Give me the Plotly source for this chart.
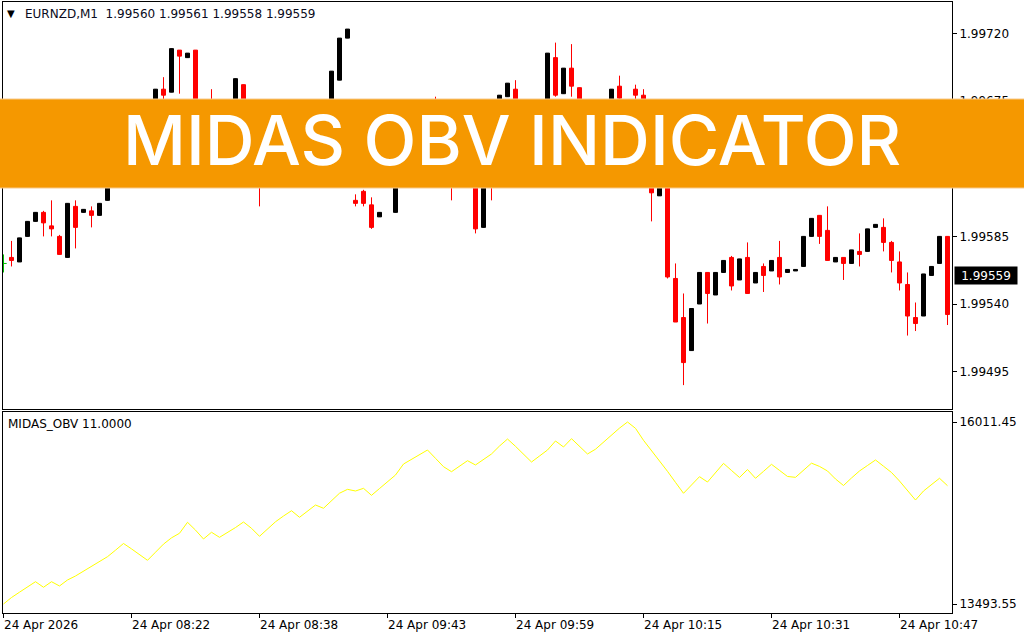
import plotly.graph_objects as go

# ---------------- data ----------------
bar_index = list(range(119))

open_ = [1.99567, 1.99571, 1.99568, 1.99585, 1.99595, 1.99601, 1.99592, 1.99585, 1.99571, 1.99605,
         1.99601, 1.99602, 1.99599, 1.99609, 1.99636, 1.99649, 1.99662, 1.99653, 1.99643, 1.99636,
         1.99683, 1.99681, 1.99709, 1.99704, 1.99709, 1.99649, 1.99643, 1.99633, 1.99626, 1.99643,
         1.99686, 1.99656, 1.99636, 1.99622, 1.99633, 1.99643, 1.99653, 1.99662, 1.99653, 1.99659,
         1.99669, 1.99659, 1.99689, 1.99717, 1.99609, 1.99615, 1.99606, 1.99598, 1.99619, 1.99601,
         1.99643, 1.99656, 1.99664, 1.99669, 1.99672, 1.99662, 1.99649, 1.99636, 1.99646, 1.99656,
         1.99591, 1.99662, 1.99653, 1.99678, 1.99683, 1.99666, 1.99653, 1.99643, 1.99656, 1.99704,
         1.99680, 1.99697, 1.99684, 1.99662, 1.99649, 1.99659, 1.99669, 1.99685, 1.99670, 1.99683,
         1.99679, 1.99656, 1.99612, 1.99643, 1.99557, 1.99531, 1.99509, 1.99540, 1.99561, 1.99546,
         1.99561, 1.99571, 1.99556, 1.99571, 1.99554, 1.99565, 1.99562, 1.99571, 1.99561, 1.99562,
         1.99565, 1.99585, 1.99599, 1.99589, 1.99568, 1.99571, 1.99567, 1.99575, 1.99575, 1.99591,
         1.99591, 1.99581, 1.99568, 1.99553, 1.99531, 1.99532, 1.99559, 1.99567, 1.99585]

high = [1.99573, 1.99582, 1.99584, 1.99595, 1.99601, 1.99602, 1.99609, 1.99586, 1.99607, 1.99609,
        1.99603, 1.99605, 1.99607, 1.99636, 1.99651, 1.99664, 1.99666, 1.99655, 1.99644, 1.99683,
        1.99691, 1.99710, 1.99709, 1.99707, 1.99709, 1.99653, 1.99683, 1.99636, 1.99644, 1.99690,
        1.99686, 1.99659, 1.99639, 1.99635, 1.99645, 1.99655, 1.99664, 1.99664, 1.99661, 1.99672,
        1.99672, 1.99695, 1.99717, 1.99723, 1.99613, 1.99616, 1.99611, 1.99601, 1.99631, 1.99643,
        1.99657, 1.99666, 1.99670, 1.99675, 1.99678, 1.99664, 1.99651, 1.99647, 1.99657, 1.99657,
        1.99664, 1.99666, 1.99679, 1.99687, 1.99689, 1.99668, 1.99655, 1.99657, 1.99707, 1.99714,
        1.99697, 1.99713, 1.99684, 1.99664, 1.99661, 1.99670, 1.99683, 1.99692, 1.99675, 1.99686,
        1.99683, 1.99657, 1.99644, 1.99644, 1.99567, 1.99547, 1.99537, 1.99561, 1.99561, 1.99561,
        1.99569, 1.99572, 1.99570, 1.99581, 1.99561, 1.99567, 1.99569, 1.99582, 1.99563, 1.99563,
        1.99585, 1.99597, 1.99599, 1.99605, 1.99571, 1.99571, 1.99576, 1.99587, 1.99590, 1.99593,
        1.99597, 1.99582, 1.99575, 1.99561, 1.99541, 1.99560, 1.99565, 1.99585, 1.99585]

low = [1.99561, 1.99565, 1.99568, 1.99585, 1.99595, 1.99585, 1.99585, 1.99573, 1.99571, 1.99577,
       1.99601, 1.99591, 1.99599, 1.99609, 1.99635, 1.99648, 1.99651, 1.99639, 1.99633, 1.99636,
       1.99673, 1.99681, 1.99680, 1.99704, 1.99648, 1.99628, 1.99630, 1.99624, 1.99624, 1.99641,
       1.99655, 1.99635, 1.99605, 1.99621, 1.99630, 1.99641, 1.99651, 1.99651, 1.99651, 1.99657,
       1.99657, 1.99659, 1.99689, 1.99717, 1.99605, 1.99605, 1.99590, 1.99598, 1.99618, 1.99601,
       1.99641, 1.99655, 1.99662, 1.99668, 1.99661, 1.99648, 1.99609, 1.99633, 1.99645, 1.99587,
       1.99591, 1.99609, 1.99651, 1.99678, 1.99664, 1.99651, 1.99641, 1.99641, 1.99655, 1.99678,
       1.99680, 1.99678, 1.99661, 1.99648, 1.99648, 1.99658, 1.99668, 1.99673, 1.99669, 1.99674,
       1.99655, 1.99595, 1.99612, 1.99557, 1.99528, 1.99486, 1.99509, 1.99540, 1.99527, 1.99546,
       1.99561, 1.99549, 1.99556, 1.99547, 1.99554, 1.99548, 1.99562, 1.99553, 1.99561, 1.99562,
       1.99565, 1.99585, 1.99580, 1.99569, 1.99568, 1.99556, 1.99567, 1.99565, 1.99575, 1.99591,
       1.99575, 1.99561, 1.99549, 1.99519, 1.99522, 1.99532, 1.99559, 1.99567, 1.99526]

close = [1.99567, 1.99569, 1.99584, 1.99595, 1.99601, 1.99594, 1.99590, 1.99573, 1.99607, 1.99591,
         1.99603, 1.99599, 1.99607, 1.99636, 1.99649, 1.99662, 1.99653, 1.99643, 1.99636, 1.99683,
         1.99679, 1.99710, 1.99705, 1.99707, 1.99649, 1.99629, 1.99633, 1.99626, 1.99643, 1.99690,
         1.99656, 1.99636, 1.99622, 1.99633, 1.99643, 1.99653, 1.99662, 1.99653, 1.99659, 1.99669,
         1.99659, 1.99695, 1.99717, 1.99723, 1.99607, 1.99607, 1.99591, 1.99601, 1.99629, 1.99643,
         1.99656, 1.99664, 1.99669, 1.99674, 1.99662, 1.99649, 1.99636, 1.99646, 1.99656, 1.99590,
         1.99662, 1.99653, 1.99679, 1.99687, 1.99666, 1.99653, 1.99643, 1.99656, 1.99707, 1.99679,
         1.99697, 1.99685, 1.99662, 1.99649, 1.99659, 1.99669, 1.99683, 1.99677, 1.99675, 1.99679,
         1.99656, 1.99614, 1.99643, 1.99558, 1.99528, 1.99501, 1.99537, 1.99561, 1.99547, 1.99561,
         1.99569, 1.99552, 1.99570, 1.99547, 1.99561, 1.99559, 1.99569, 1.99558, 1.99563, 1.99563,
         1.99585, 1.99597, 1.99585, 1.99569, 1.99571, 1.99567, 1.99576, 1.99573, 1.99590, 1.99593,
         1.99581, 1.99569, 1.99554, 1.99532, 1.99527, 1.99560, 1.99565, 1.99585, 1.99533]

obv = [13493.55, 13583, 13657, 13729, 13802, 13725, 13802, 13743, 13826, 13881,
       13946, 14014, 14082, 14148, 14238, 14331, 14256, 14174, 14098, 14210,
       14322, 14409, 14472, 14624, 14516, 14393, 14486, 14416, 14481, 14551,
       14628, 14541, 14430, 14530, 14631, 14711, 14784, 14693, 14777, 14863,
       14818, 14921, 15026, 15080, 15057, 15094, 14997, 15091, 15186, 15278,
       15430, 15495, 15555, 15624, 15509, 15393, 15324, 15394, 15476, 15417,
       15489, 15569, 15679, 15776, 15675, 15566, 15458, 15541, 15624, 15749,
       15666, 15781, 15674, 15569, 15635, 15732, 15837, 15927, 16011.45, 15924,
       15758, 15617, 15486, 15329, 15176, 15025, 15140, 15255, 15181, 15310,
       15439, 15341, 15244, 15354, 15233, 15329, 15426, 15342, 15258, 15246,
       15345, 15442, 15397, 15334, 15223, 15133, 15237, 15334, 15410, 15486,
       15400, 15313, 15195, 15064, 14932, 15057, 15147, 15233, 15130]

time_tick_bars = [0, 16, 32, 48, 64, 80, 96, 112]
time_labels = ["24 Apr 2026", "24 Apr 08:22", "24 Apr 08:38", "24 Apr 09:43",
               "24 Apr 09:59", "24 Apr 10:15", "24 Apr 10:31", "24 Apr 10:47"]
price_ticks = [1.99495, 1.99540, 1.99585, 1.99630, 1.99675, 1.99720]
symbol = "EURNZD,M1"
header_ohlc = [1.99560, 1.99561, 1.99558, 1.99559]
last_price = 1.99559
indicator_label = "MIDAS_OBV 11.0000"
banner_text = "MIDAS OBV INDICATOR"

# ---------------- layout geometry ----------------
W, H = 1024, 640
ML, MR, MT, MB = 3, 72, 2, 27
PW, PH = W - ML - MR, H - MT - MB


def paper_x(px):
    return (px - ML) / PW


def paper_y(py):
    return (H - MB - py) / PH


FONT = "DejaVu Sans"
RED = "#FF0000"
BLACK = "#000000"

n = len(bar_index)
body_base, body_h, body_col = [], [], []
for o, c in zip(open_, close):
    body_base.append(min(o, c))
    body_h.append(abs(c - o))
    body_col.append(BLACK if c > o else RED)

wx_r, wy_r, wx_b, wy_b = [], [], [], []
for i in range(1, n):
    if body_col[i] == RED:
        wx_r += [bar_index[i], bar_index[i], None]
        wy_r += [low[i], high[i], None]
    else:
        wx_b += [bar_index[i], bar_index[i], None]
        wy_b += [low[i], high[i], None]

fig = go.Figure()

# wicks
fig.add_trace(go.Scatter(x=wx_r, y=wy_r, mode="lines", line=dict(color=RED, width=1),
                         hoverinfo="skip", showlegend=False, xaxis="x", yaxis="y"))
fig.add_trace(go.Scatter(x=wx_b, y=wy_b, mode="lines", line=dict(color=BLACK, width=1),
                         hoverinfo="skip", showlegend=False, xaxis="x", yaxis="y"))
# bodies
fig.add_trace(go.Bar(x=bar_index[1:], y=body_h[1:], base=body_base[1:], width=0.5,
                     marker=dict(color=body_col[1:], line=dict(color=body_col[1:], width=1)),
                     hoverinfo="skip", showlegend=False, xaxis="x", yaxis="y"))
# first (partial) bar, drawn as a green OHLC bar
fig.add_trace(go.Ohlc(x=bar_index[:1], open=open_[:1], high=high[:1], low=low[:1], close=close[:1],
                      increasing=dict(line=dict(color="#00C000", width=1)),
                      decreasing=dict(line=dict(color="#00C000", width=1)),
                      tickwidth=0.4, hoverinfo="skip", showlegend=False, xaxis="x", yaxis="y"))

# indicator
fig.add_trace(go.Scatter(x=bar_index, y=obv, mode="lines", line=dict(color="#FFFF00", width=1),
                         hoverinfo="skip", showlegend=False, xaxis="x2", yaxis="y2"))

xr = [-0.0625, -0.0625 + PW / 8.0]
ppx = 0.00045 / 67.6
y_top = 1.99540 + (304 - 2) * ppx
y_bot = 1.99540 - (409 - 304) * ppx
opx = (max(obv) - min(obv)) / 182.0
y2_top = max(obv) + 10 * opx
y2_bot = min(obv) - 9 * opx

axis_common = dict(showgrid=False, zeroline=False, showline=True, linecolor=BLACK, linewidth=1,
                   mirror=True)

fig.update_layout(
    width=W, height=H, autosize=False,
    margin=dict(l=ML, r=MR, t=MT, b=MB, pad=0),
    paper_bgcolor="white", plot_bgcolor="white",
    hovermode=False, bargap=0, barmode="overlay",
    font=dict(family=FONT, size=12, color=BLACK),
    xaxis=dict(domain=[0, 1], anchor="y", range=xr, showticklabels=False, ticks="",
               rangeslider=dict(visible=False), **axis_common),
    yaxis=dict(domain=[paper_y(409), 1], anchor="x", side="right", range=[y_bot, y_top],
               tickvals=price_ticks, tickformat=".5f", ticks="outside", ticklen=4,
               tickcolor=BLACK, tickfont=dict(family=FONT, size=12, color=BLACK), **axis_common),
    xaxis2=dict(domain=[0, 1], anchor="y2", range=xr, matches="x", tickvals=time_tick_bars,
                showticklabels=False, ticks="outside", ticklen=4, tickcolor=BLACK,
                **axis_common),
    yaxis2=dict(domain=[0, paper_y(412)], anchor="x2", side="right", range=[y2_bot, y2_top],
                tickvals=[max(obv), min(obv)],
                ticktext=["%.2f" % max(obv), "%.2f" % min(obv)],
                ticks="outside", ticklen=4, tickcolor=BLACK,
                tickfont=dict(family=FONT, size=12, color=BLACK), **axis_common),
)

annotations = []
# time labels (left-aligned at their tick, MT4 style)
for b, lab in zip(time_tick_bars, time_labels):
    annotations.append(dict(x=b, xref="x2", y=0, yref="paper", yanchor="top", xanchor="left",
                            text=lab, showarrow=False, yshift=-4, xshift=-1, borderpad=0,
                            font=dict(family=FONT, size=12, color=BLACK)))
# header
annotations.append(dict(x=paper_x(6), y=paper_y(14), xref="paper", yref="paper", xanchor="left",
                        yanchor="middle", showarrow=False, borderpad=0, text="\u25BC",
                        font=dict(family=FONT, size=10, color=BLACK)))
annotations.append(dict(x=paper_x(24), y=paper_y(14), xref="paper", yref="paper", xanchor="left",
                        yanchor="middle", showarrow=False, borderpad=0,
                        text=symbol + "\u00a0\u00a0" + " ".join("%.5f" % v for v in header_ohlc),
                        font=dict(family=FONT, size=12, color="#0A0A20")))
annotations.append(dict(x=paper_x(7), y=paper_y(424), xref="paper", yref="paper", xanchor="left",
                        yanchor="middle", showarrow=False, borderpad=0, text=indicator_label,
                        font=dict(family=FONT, size=12, color=BLACK)))
# last price tag
annotations.append(dict(x=paper_x(954), y=last_price, xref="paper", yref="y", xanchor="left",
                        yanchor="middle", showarrow=False, text="%.5f" % last_price,
                        bgcolor=BLACK, borderpad=2, width=58, height=13,
                        font=dict(family=FONT, size=12, color="white")))
# banner text
annotations.append(dict(x=paper_x(512), y=paper_y(140), xref="paper", yref="paper",
                        xanchor="center", yanchor="middle", showarrow=False, text=banner_text,
                        font=dict(family="Inter", size=69, color="white", weight=500)))
fig.update_layout(annotations=annotations)

fig.add_shape(type="rect", xref="paper", yref="paper", x0=paper_x(-2), x1=paper_x(1026),
              y0=paper_y(188), y1=paper_y(99), fillcolor="#F59800",
              line=dict(color="#F8C98A", width=1), layer="above")

fig.write_html("out.html", config={"displayModeBar": False, "staticPlot": True},
               post_script="document.body.style.margin='0';")
